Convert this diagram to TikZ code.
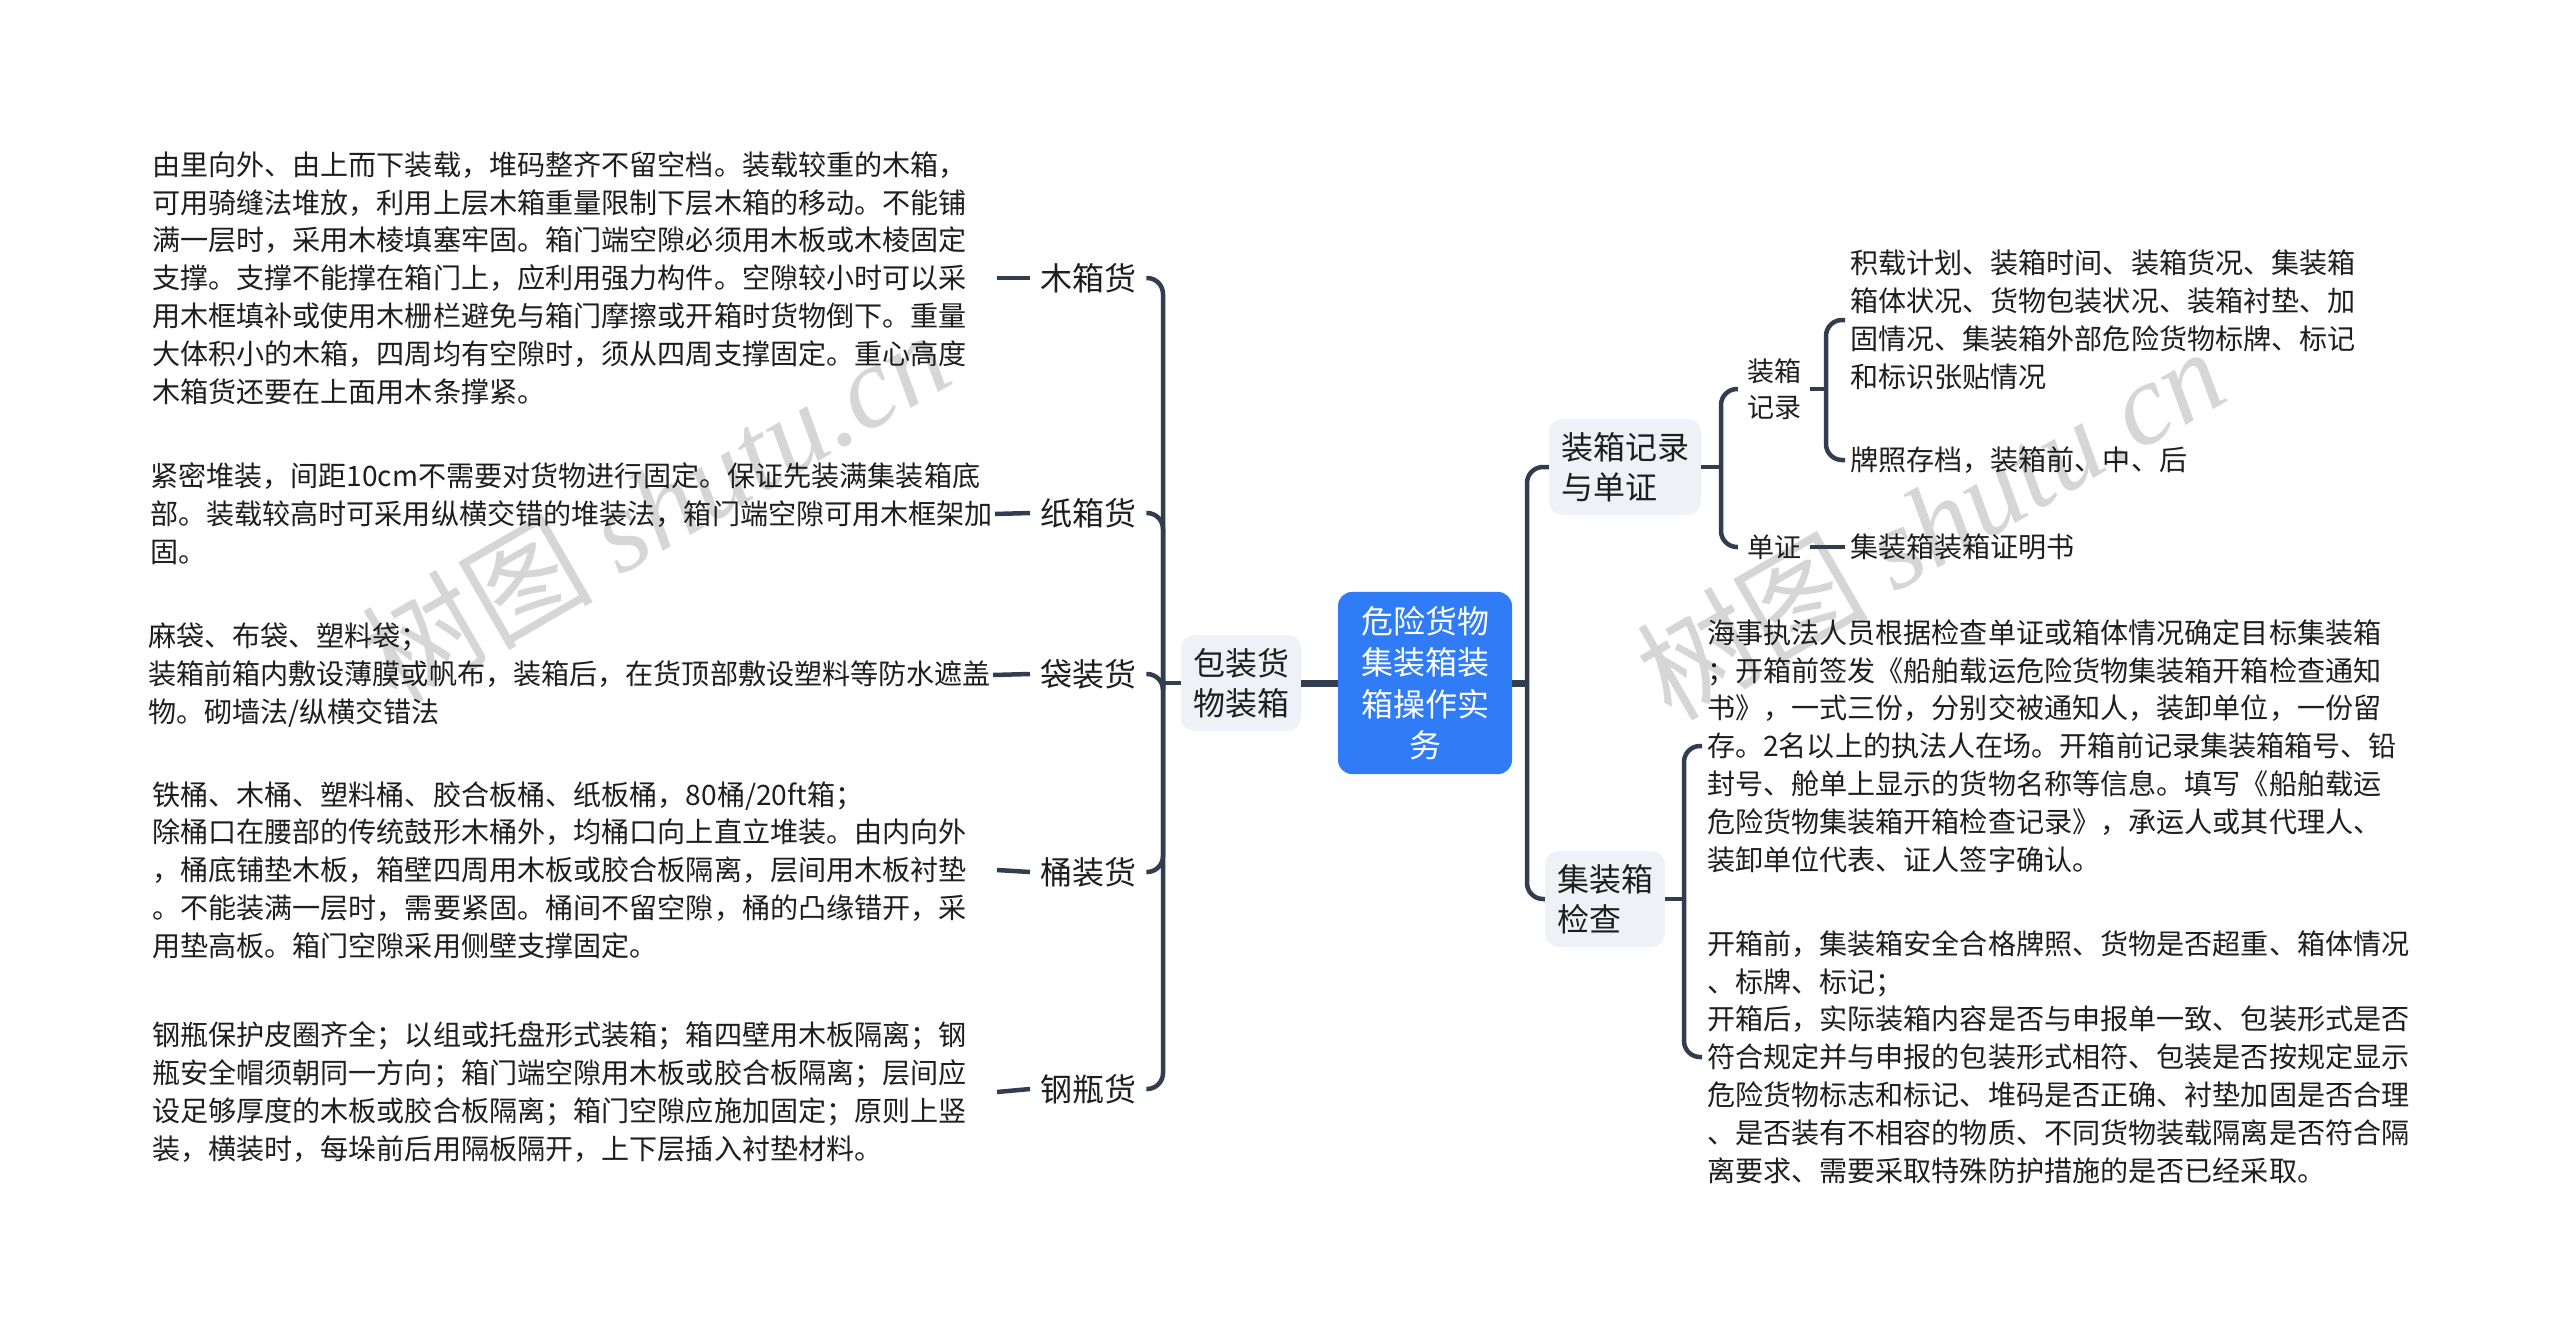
\documentclass[tikz,border=0pt]{standalone}
\usepackage{fontspec}
\setmainfont{Noto Sans CJK SC}
\newfontfamily\wmlatin{Liberation Serif}
\usepackage{xcolor}
\usetikzlibrary{positioning, calc}

\definecolor{linkc}{HTML}{323E50}
\definecolor{rootc}{HTML}{2F7CF6}
\definecolor{boxc}{HTML}{EEF1F5}
\definecolor{textc}{HTML}{1E1E1E}
\definecolor{wmc}{HTML}{D6D6D6}

\begin{document}
\begin{tikzpicture}[x=1pt,y=-1pt,
    link/.style={draw=linkc, line width=4.5pt, rounded corners=16pt},
    trunk/.style={draw=linkc, line width=7pt},
    root/.style={fill=rootc, text=white, rounded corners=14pt, align=center, text width=130pt,
        inner xsep=22pt, inner ysep=14pt, font=\fontsize{32}{41.5}\selectfont},
    topic/.style={fill=boxc, text=textc, rounded corners=13pt, align=left,
        inner xsep=12pt, inner ysep=13pt, font=\fontsize{32}{40}\selectfont},
    leaf/.style={text=textc, inner xsep=10pt, inner ysep=4pt, font=\fontsize{32}{40}\selectfont},
    sub/.style={text=textc, align=left, inner xsep=9pt, inner ysep=4pt, font=\fontsize{27}{36}\selectfont},
    desc/.style={text=textc, align=left, inner sep=0pt, outer xsep=5pt, font=\fontsize{28.1}{37.8}\selectfont},
    wm/.style={text=wmc, rotate=30, font=\fontsize{116}{116}\selectfont}
]

    % Canvas
    \useasboundingbox (0,0) rectangle (2560,1333);
    \fill[white] (0,0) rectangle (2560,1333);

    % Watermarks
    \node[wm] (wmleft) at (655,505) {树图 {\wmlatin\itshape shutu.cn}};
    \node[wm] (wmright) at (1930,522) {树图 {\wmlatin\itshape shutu.cn}};

    % Root and first level
    \node[root] (root) at (1425,683) {危险货物\\集装箱装\\箱操作实\\务};
    \node[topic] (pack) at (1241,683) {包装货\\物装箱};
    \node[topic] (record) at (1625,467) {装箱记录\\与单证};
    \node[topic] (check) at (1605,899) {集装箱\\检查};

    % Left branch: cargo kinds
    \node[leaf, anchor=west] (wood) at (1030,278) {木箱货};
    \node[leaf, anchor=west] (carton) at (1030,513) {纸箱货};
    \node[leaf, anchor=west] (bag) at (1030,674) {袋装货};
    \node[leaf, anchor=west] (drum) at (1030,872) {桶装货};
    \node[leaf, anchor=west] (cyl) at (1030,1089) {钢瓶货};

    \node[desc, anchor=west, text width=840pt] (woodtxt) at (147,278) {%
由里向外、由上而下装载，堆码整齐不留空档。装载较重的木箱，\\
可用骑缝法堆放，利用上层木箱重量限制下层木箱的移动。不能铺\\
满一层时，采用木棱填塞牢固。箱门端空隙必须用木板或木棱固定\\
支撑。支撑不能撑在箱门上，应利用强力构件。空隙较小时可以采\\
用木框填补或使用木栅栏避免与箱门摩擦或开箱时货物倒下。重量\\
大体积小的木箱，四周均有空隙时，须从四周支撑固定。重心高度\\
木箱货还要在上面用木条撑紧。};
    \node[desc, anchor=west, text width=840pt] (cartontxt) at (145,514) {%
紧密堆装，间距10cm不需要对货物进行固定。保证先装满集装箱底\\
部。装载较高时可采用纵横交错的堆装法，箱门端空隙可用木框架加\\
固。};
    \node[desc, anchor=west, text width=840pt] (bagtxt) at (143,675) {%
麻袋、布袋、塑料袋；\\
装箱前箱内敷设薄膜或帆布，装箱后，在货顶部敷设塑料等防水遮盖\\
物。砌墙法/纵横交错法};
    \node[desc, anchor=west, text width=840pt] (drumtxt) at (147,870) {%
铁桶、木桶、塑料桶、胶合板桶、纸板桶，80桶/20ft箱；\\
除桶口在腰部的传统鼓形木桶外，均桶口向上直立堆装。由内向外\\
，桶底铺垫木板，箱壁四周用木板或胶合板隔离，层间用木板衬垫\\
。不能装满一层时，需要紧固。桶间不留空隙，桶的凸缘错开，采\\
用垫高板。箱门空隙采用侧壁支撑固定。};
    \node[desc, anchor=west, text width=840pt] (cyltxt) at (147,1092) {%
钢瓶保护皮圈齐全；以组或托盘形式装箱；箱四壁用木板隔离；钢\\
瓶安全帽须朝同一方向；箱门端空隙用木板或胶合板隔离；层间应\\
设足够厚度的木板或胶合板隔离；箱门空隙应施加固定；原则上竖\\
装，横装时，每垛前后用隔板隔开，上下层插入衬垫材料。};

    % Right branch: records and papers
    \node[sub] (rec) at (1774,389) {装箱\\记录};
    \node[sub] (paper) at (1774,547) {单证};
    \node[desc, anchor=west] (rectxt) at (1845,320) {%
积载计划、装箱时间、装箱货况、集装箱\\
箱体状况、货物包装状况、装箱衬垫、加\\
固情况、集装箱外部危险货物标牌、标记\\
和标识张贴情况};
    \node[desc, anchor=west] (phototxt) at (1845,460) {牌照存档，装箱前、中、后};
    \node[desc, anchor=west] (papertxt) at (1845,547) {集装箱装箱证明书};

    % Right branch: inspection
    \node[desc, anchor=west] (opentxt) at (1702,746) {%
海事执法人员根据检查单证或箱体情况确定目标集装箱\\
；开箱前签发《船舶载运危险货物集装箱开箱检查通知\\
书》，一式三份，分别交被通知人，装卸单位，一份留\\
存。2名以上的执法人在场。开箱前记录集装箱箱号、铅\\
封号、舱单上显示的货物名称等信息。填写《船舶载运\\
危险货物集装箱开箱检查记录》，承运人或其代理人、\\
装卸单位代表、证人签字确认。};
    \node[desc, anchor=west] (itemtxt) at (1702,1057) {%
开箱前，集装箱安全合格牌照、货物是否超重、箱体情况\\
、标牌、标记；\\
开箱后，实际装箱内容是否与申报单一致、包装形式是否\\
符合规定并与申报的包装形式相符、包装是否按规定显示\\
危险货物标志和标记、堆码是否正确、衬垫加固是否合理\\
、是否装有不相容的物质、不同货物装载隔离是否符合隔\\
离要求、需要采取特殊防护措施的是否已经采取。};

    % Brackets
    \coordinate (lb) at (1163,683);
    \coordinate (rb) at (1527,683);
    \coordinate (recb) at (1721,467);
    \coordinate (subb) at (1826,389);
    \coordinate (chkb) at (1684,899);

    \draw[trunk] (root.west) -- (pack.east);
    \draw[trunk] (root.east) -- (rb);
    \draw[link] (pack.west) -- (lb);
    \foreach \n in {wood, carton, bag, drum, cyl}
        \draw[link] (lb) |- (\n.east);
    \foreach \n in {wood, carton, bag, drum, cyl}
        \draw[link] (\n txt.east) -- (\n.west);

    \draw[link] (rb) |- (record.west);
    \draw[link] (rb) |- (check.west);

    \draw[link] (record.east) -- (recb);
    \draw[link] (recb) |- (rec.west);
    \draw[link] (recb) |- (paper.west);
    \draw[link] (rec.east) -- (subb);
    \draw[link] (subb) |- (rectxt.west);
    \draw[link] (subb) |- (phototxt.west);
    \draw[link] (paper.east) -- (papertxt.west);

    \draw[link] (check.east) -- (chkb);
    \draw[link] (chkb) |- (opentxt.west);
    \draw[link] (chkb) |- (itemtxt.west);
\end{tikzpicture}
\end{document}
